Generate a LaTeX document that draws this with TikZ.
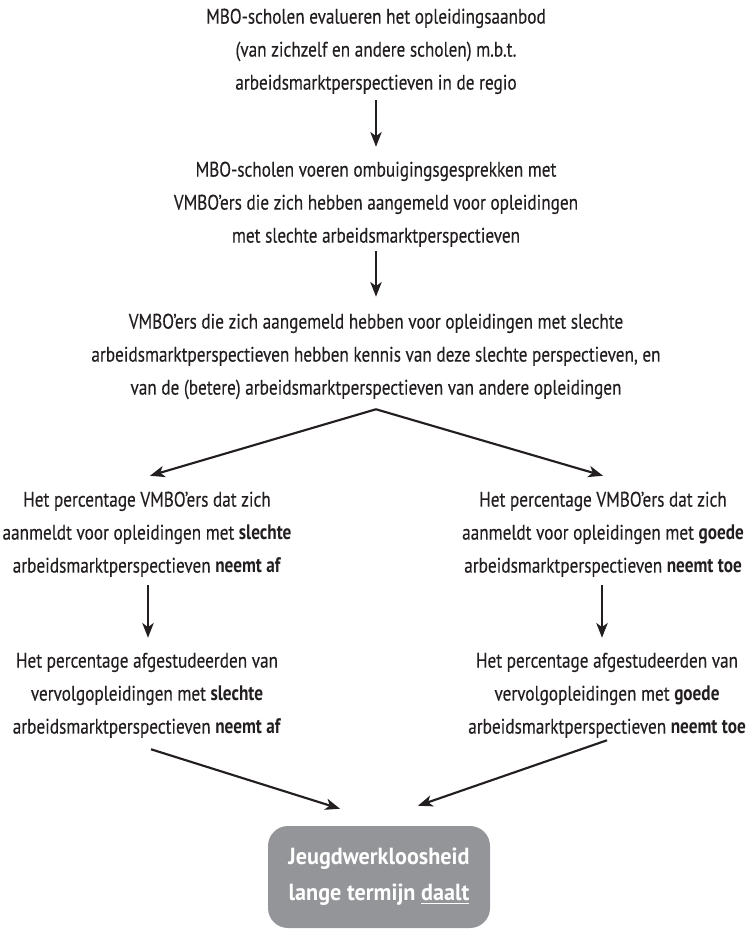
\documentclass[tikz,border=0pt]{standalone}
\usepackage{fontspec}
\setmainfont{PT Sans}[FakeStretch=0.82,UprightFeatures={FakeBold=0.25}]
\newfontfamily\boxfont{PT Sans}[FakeStretch=0.95]
\usetikzlibrary{arrows.meta,calc}
\definecolor{ink}{HTML}{231F20}
\definecolor{boxgray}{HTML}{939598}
\newcommand{\rowfont}{\fontsize{15.75pt}{24.75pt}\selectfont}
\newcommand{\lastboxfont}{\boxfont\bfseries\fontsize{17.5pt}{27pt}\selectfont}
\begin{document}
\begin{tikzpicture}[x=0.75pt,y=-0.75pt,
  txt/.style={align=center,inner sep=0pt,text=ink,font=\rowfont},
  arr/.style={draw=ink,line width=1.6pt,-{Stealth[length=11pt,width=8.5pt,inset=3pt]}},
  endbox/.style={align=center,inner sep=0pt,text=white,font=\lastboxfont,
    fill=boxgray,rounded corners=15pt,minimum width=166.5pt,minimum height=76.5pt}]
\useasboundingbox (0,0) rectangle (752,930);

\node[txt] (b1) at (376,50) {\strut MBO-scholen evalueren het opleidingsaanbod\\(van zichzelf en andere scholen) m.b.t.\\arbeidsmarktperspectieven in de regio\strut};

\node[txt] (b2) at (376,203) {\strut MBO-scholen voeren ombuigingsgesprekken met\\VMBO’ers die zich hebben aangemeld voor opleidingen\\met slechte arbeidsmarktperspectieven\strut};

\node[txt] (b3) at (376,355) {\strut VMBO’ers die zich aangemeld hebben voor opleidingen met slechte\\arbeidsmarktperspectieven hebben kennis van deze slechte perspectieven, en\\van de (betere) arbeidsmarktperspectieven van andere opleidingen\strut};

\node[txt] (b4l) at (147,533) {\strut Het percentage VMBO’ers dat zich\\aanmeldt voor opleidingen met \textbf{slechte}\\arbeidsmarktperspectieven \textbf{neemt af}\strut};

\node[txt] (b4r) at (603,533) {\strut Het percentage VMBO’ers dat zich\\aanmeldt voor opleidingen met \textbf{goede}\\arbeidsmarktperspectieven \textbf{neemt toe}\strut};

\node[txt] (b5l) at (147,694) {\strut Het percentage afgestudeerden van\\vervolgopleidingen met \textbf{slechte}\\arbeidsmarktperspectieven \textbf{neemt af}\strut};

\node[txt] (b5r) at (607,694) {\strut Het percentage afgestudeerden van\\vervolgopleidingen met \textbf{goede}\\arbeidsmarktperspectieven \textbf{neemt toe}\strut};

\node[endbox] (end) at (379,877) {\raisebox{0pt}[0pt][0pt]{}Jeugdwerkloosheid\\lange termijn \underline{daalt}};

\draw[arr] (b1.south) -- ($(b2.north)+(0,-6.5)$);
\draw[arr] ($(b2.south)+(0,-1.5)$) -- ($(b3.north)+(0,-8.5)$);
\draw[arr] ($(b3.south)+(0,4.5)$) -- ($(b4l.north)+(3,-7.5)$);
\draw[arr] ($(b3.south)+(0,4.5)$) -- ($(b4r.north)+(0,-7.5)$);
\draw[arr] ($(b4l.south)+(1,2.5)$) -- ($(b5l.north)+(1,-6.5)$);
\draw[arr] ($(b4r.south)+(-1,2.5)$) -- ($(b5r.north)+(-5,-6.5)$);
\draw[arr] ($(b5l.south)+(4,5.5)$) -- ($(end.north)+(-39,-17)$);
\draw[arr] ($(b5r.south)+(0,-3.5)$) -- ($(end.north)+(39,-20)$);
\end{tikzpicture}
\end{document}
